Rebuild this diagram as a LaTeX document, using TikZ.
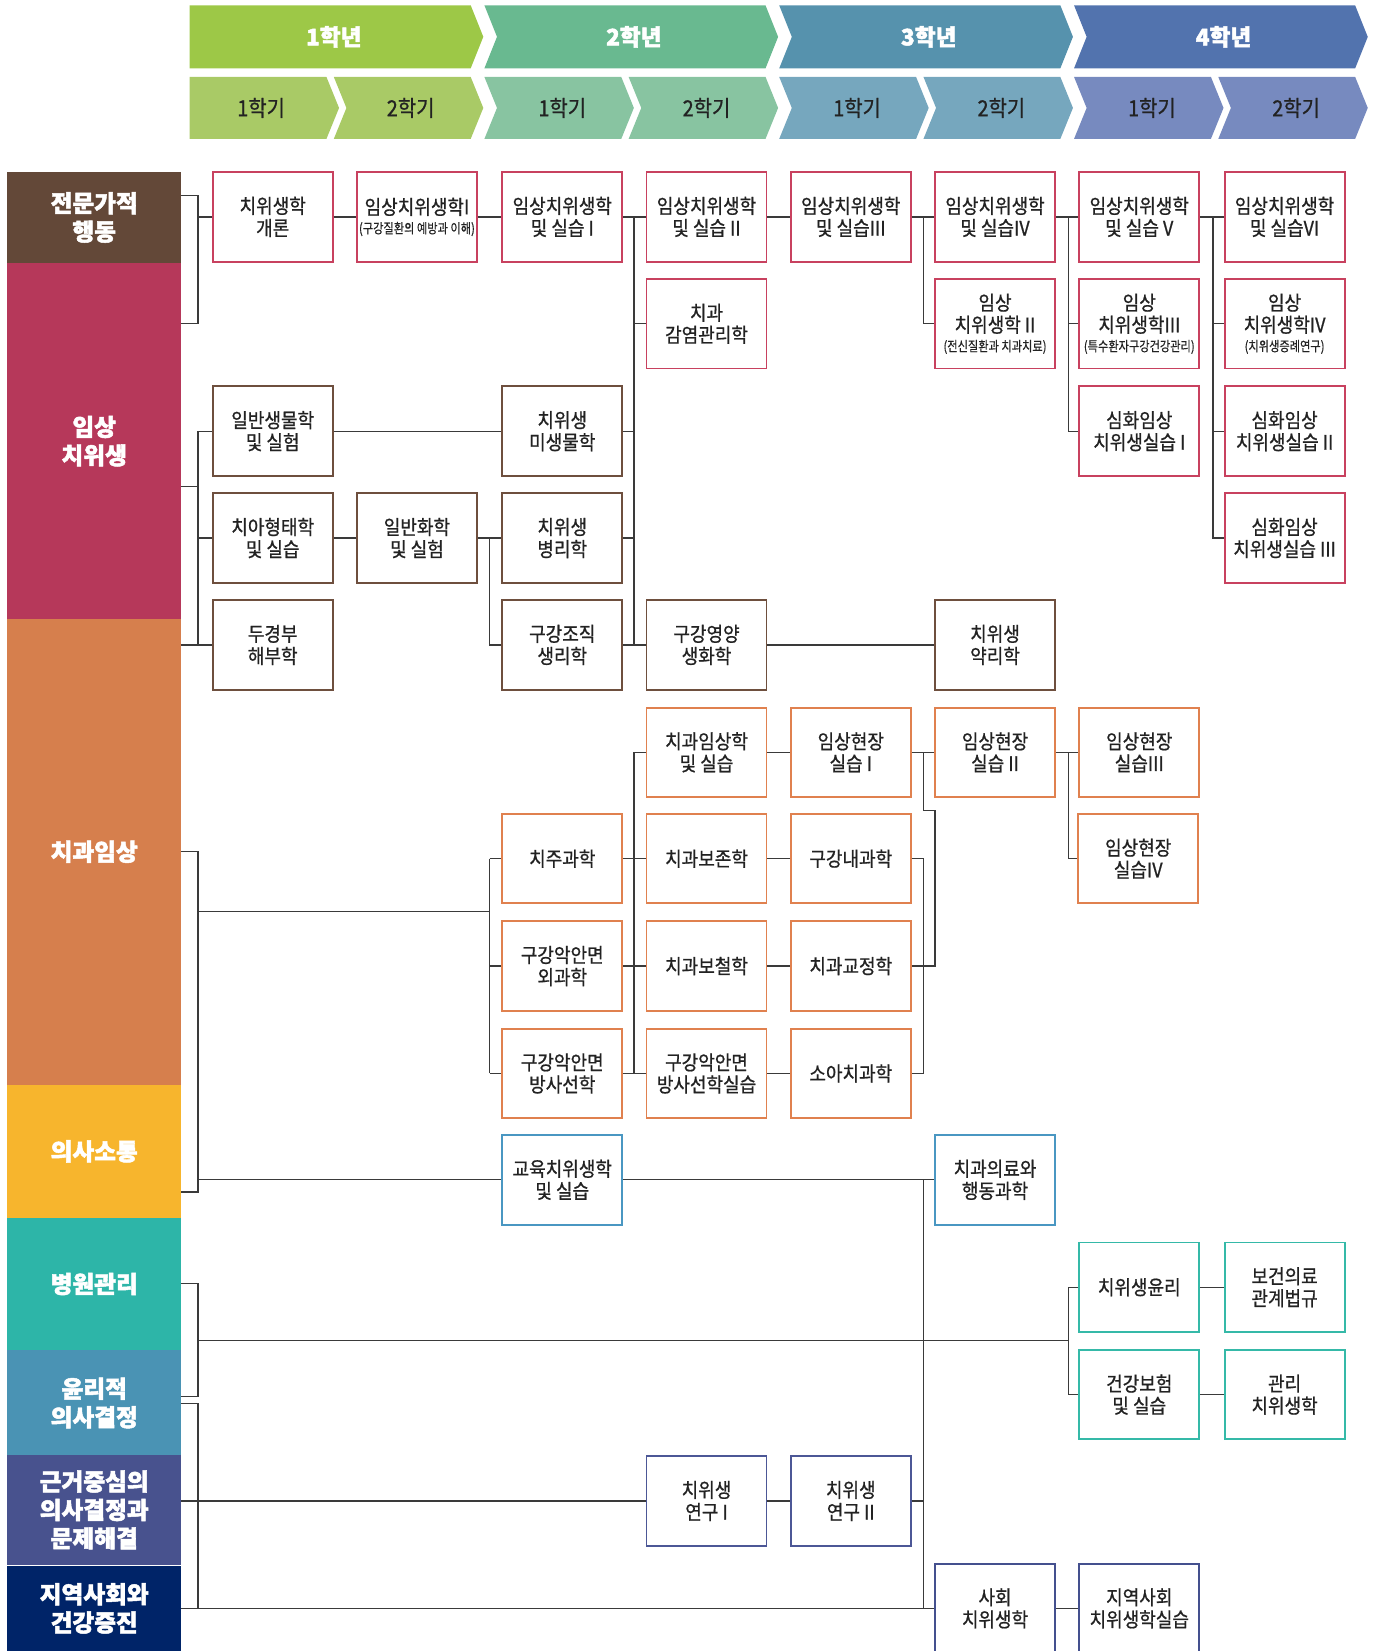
\documentclass[tikz,border=0pt]{standalone}
\usepackage{fontspec}
\setmainfont{Noto Sans CJK KR}
\newfontfamily\boxfont{Noto Sans CJK KR}[FakeBold=0.8,FakeStretch=0.9]
\newfontfamily\smallfont{Noto Sans CJK KR}[FakeBold=0.4,FakeStretch=0.82]
\newfontfamily\catfont{Noto Sans CJK KR}[BoldFeatures={FakeBold=2}]
\definecolor{y1c}{HTML}{9DC847}
\definecolor{s1c}{HTML}{A9CA66}
\definecolor{y2c}{HTML}{69B990}
\definecolor{s2c}{HTML}{88C4A1}
\definecolor{y3c}{HTML}{5692AD}
\definecolor{s3c}{HTML}{76A7BE}
\definecolor{y4c}{HTML}{5273AE}
\definecolor{s4c}{HTML}{778ABF}
\definecolor{k1c}{HTML}{634838}
\definecolor{k2c}{HTML}{B6385A}
\definecolor{k3c}{HTML}{D67F4D}
\definecolor{k4c}{HTML}{F7B52D}
\definecolor{k5c}{HTML}{2DB5A8}
\definecolor{k6c}{HTML}{4A93B4}
\definecolor{k7c}{HTML}{48528E}
\definecolor{k8c}{HTML}{002468}
\definecolor{crc}{HTML}{C8415F}
\definecolor{brc}{HTML}{6E4F3E}
\definecolor{orc}{HTML}{E0814F}
\definecolor{blc}{HTML}{4A97C2}
\definecolor{tec}{HTML}{35B9A8}
\definecolor{inc}{HTML}{4C5796}
\definecolor{nvc}{HTML}{44508E}
\definecolor{lnc}{HTML}{3A3A3A}
\definecolor{txt}{HTML}{222222}
\newcommand{\mychev}[6]{\fill[#6] (#1,#3) -- (#2,#3) -- ({#2+12},{(#3+#4)/2}) -- (#2,#4) -- (#1,#4) -- ({#1+#5},{(#3+#4)/2}) -- cycle;}
\newcommand{\sm}[1]{{\smallfont\fontsize{13}{14}\selectfont #1}}
\begin{document}
\begin{tikzpicture}[x=1pt,y=-1pt,
  box/.style={draw, line width=1.8pt, fill=white, minimum width=114pt, minimum height=85pt, inner sep=0pt, align=center, font=\boxfont\fontsize{19}{21}\selectfont, text=txt},
  crb/.style={box, draw=crc}, brb/.style={box, draw=brc}, orb/.style={box, draw=orc},
  blb/.style={box, draw=blc}, teb/.style={box, draw=tec}, inb/.style={box, draw=inc}, nvb/.style={box, draw=nvc},
  cat/.style={minimum width=165pt, inner sep=0pt, outer sep=0pt, text=white, align=center, font=\catfont\bfseries\fontsize{22.5}{27}\selectfont},
  yr/.style={text=white, font=\catfont\bfseries\fontsize{21.5}{24}\selectfont},
  sem/.style={text=txt, font=\boxfont\fontsize{21}{22}\selectfont},
  ln/.style={draw=lnc, line width=1.2pt}]
\useasboundingbox (0,0) rectangle (1306,1568);
% ---------- header ----------
\mychev{180}{447}{5}{65}{0}{y1c}
\mychev{460}{727}{5}{65}{12}{y2c}
\mychev{740}{1007}{5}{65}{12}{y3c}
\mychev{1020}{1287}{5}{65}{12}{y4c}
\mychev{180}{310}{73}{132}{0}{s1c}
\mychev{317}{447}{73}{132}{12}{s1c}
\mychev{460}{590}{73}{132}{12}{s2c}
\mychev{597}{727}{73}{132}{12}{s2c}
\mychev{740}{870}{73}{132}{12}{s3c}
\mychev{877}{1007}{73}{132}{12}{s3c}
\mychev{1020}{1150}{73}{132}{12}{s4c}
\mychev{1157}{1287}{73}{132}{12}{s4c}
\node[yr] (y1) at (317,35) {1학년};
\node[yr] (y2) at (602,35) {2학년};
\node[yr] (y3) at (882,35) {3학년};
\node[yr] (y4) at (1162,35) {4학년};
\node[sem] (s11) at (248,102.5) {1학기};
\node[sem] (s12) at (390,102.5) {2학기};
\node[sem] (s21) at (534,102.5) {1학기};
\node[sem] (s22) at (671,102.5) {2학기};
\node[sem] (s31) at (814,102.5) {1학기};
\node[sem] (s32) at (951,102.5) {2학기};
\node[sem] (s41) at (1094,102.5) {1학기};
\node[sem] (s42) at (1231,102.5) {2학기};
% ---------- categories ----------
\node[cat, fill=k1c, minimum height=87pt] (k1) at (89.5,206.5) {전문가적\\행동};
\node[cat, fill=k2c, minimum height=338pt] (k2) at (89.5,419) {임상\\치위생};
\node[cat, fill=k3c, minimum height=442pt] (k3) at (89.5,809) {치과임상};
\node[cat, fill=k4c, minimum height=127pt] (k4) at (89.5,1093.5) {의사소통};
\node[cat, fill=k5c, minimum height=125pt] (k5) at (89.5,1219.5) {병원관리};
\node[cat, fill=k6c, minimum height=101pt] (k6) at (89.5,1332.5) {윤리적\\의사결정};
\node[cat, fill=k7c, minimum height=104pt] (k7) at (89.5,1434) {근거중심의\\의사결정과\\문제해결};
\node[cat, fill=k8c, minimum height=81pt] (k8) at (89.5,1527.5) {지역사회와\\건강증진};
% ---------- courses ----------
\node[crb] (n1c1) at (259,206) {치위생학\\개론};
\node[crb] (n1c2) at (396,206) {임상치위생학I\\[-3pt]\sm{(구강질환의 예방과 이해)}};
\node[crb] (n1c3) at (534,206) {임상치위생학\\및 실습 I};
\node[crb] (n1c4) at (671,206) {임상치위생학\\및 실습 II};
\node[crb] (n1c5) at (808,206) {임상치위생학\\및 실습III};
\node[crb] (n1c6) at (945,206) {임상치위생학\\및 실습IV};
\node[crb] (n1c7) at (1082,206) {임상치위생학\\및 실습 V};
\node[crb] (n1c8) at (1220,206) {임상치위생학\\및 실습VI};
\node[crb] (n2c4) at (671,307.5) {치과\\감염관리학};
\node[crb] (n2c6) at (945,307.5) {임상\\치위생학 II\\[-3pt]\sm{(전신질환과 치과치료)}};
\node[crb] (n2c7) at (1082,307.5) {임상\\치위생학III\\[-3pt]\sm{(특수환자구강건강관리)}};
\node[crb] (n2c8) at (1220,307.5) {임상\\치위생학IV\\[-3pt]\sm{(치위생증례연구)}};
\node[brb] (n3c1) at (259,409.5) {일반생물학\\및 실험};
\node[brb] (n3c3) at (534,409.5) {치위생\\미생물학};
\node[crb] (n3c7) at (1082,409.5) {심화임상\\치위생실습 I};
\node[crb] (n3c8) at (1220,409.5) {심화임상\\치위생실습 II};
\node[brb] (n4c1) at (259,511) {치아형태학\\및 실습};
\node[brb] (n4c2) at (396,511) {일반화학\\및 실험};
\node[brb] (n4c3) at (534,511) {치위생\\병리학};
\node[crb] (n4c8) at (1220,511) {심화임상\\치위생실습 III};
\node[brb] (n5c1) at (259,612.5) {두경부\\해부학};
\node[brb] (n5c3) at (534,612.5) {구강조직\\생리학};
\node[brb] (n5c4) at (671,612.5) {구강영양\\생화학};
\node[brb] (n5c6) at (945,612.5) {치위생\\약리학};
\node[orb] (n6c4) at (671,714.5) {치과임상학\\및 실습};
\node[orb] (n6c5) at (808,714.5) {임상현장\\실습 I};
\node[orb] (n6c6) at (945,714.5) {임상현장\\실습 II};
\node[orb] (n6c7) at (1082,714.5) {임상현장\\실습III};
\node[orb] (n7c3) at (534,815.5) {치주과학};
\node[orb] (n7c4) at (671,815.5) {치과보존학};
\node[orb] (n7c5) at (808,815.5) {구강내과학};
\node[orb] (n7c7) at (1081,815.5) {임상현장\\실습IV};
\node[orb] (n8c3) at (534,917.5) {구강악안면\\외과학};
\node[orb] (n8c4) at (671,917.5) {치과보철학};
\node[orb] (n8c5) at (808,917.5) {치과교정학};
\node[orb] (n9c3) at (534,1019.5) {구강악안면\\방사선학};
\node[orb] (n9c4) at (671,1019.5) {구강악안면\\방사선학실습};
\node[orb] (n9c5) at (808,1019.5) {소아치과학};
\node[blb] (n10c3) at (534,1120.5) {교육치위생학\\및 실습};
\node[blb] (n10c6) at (945,1120.5) {치과의료와\\행동과학};
\node[teb] (n11c7) at (1082,1222.5) {치위생윤리};
\node[teb] (n11c8) at (1220,1222.5) {보건의료\\관계법규};
\node[teb] (n12c7) at (1082,1324.5) {건강보험\\및 실습};
\node[teb] (n12c8) at (1220,1324.5) {관리\\치위생학};
\node[inb] (n13c4) at (671,1425.5) {치위생\\연구 I};
\node[inb] (n13c5) at (808,1425.5) {치위생\\연구 II};
\node[nvb] (n14c6) at (945,1527.5) {사회\\치위생학};
\node[nvb] (n14c7) at (1082,1527.5) {지역사회\\치위생학실습};
% ---------- spine coordinates ----------
\coordinate (xS) at (188,0);
\coordinate (xA) at (465,0);
\coordinate (xB) at (602,0);
\coordinate (xC) at (877,0);
\coordinate (xD) at (1015,0);
\coordinate (xE) at (1152,0);
\coordinate (b1t) at (188,186);
\coordinate (b1b) at (188,307);
\coordinate (b2t) at (188,462);
\coordinate (b3t) at (188,809);
\coordinate (b3m) at (188,866);
\coordinate (b3b) at (188,1132);
\coordinate (b5t) at (188,1219);
\coordinate (b5m) at (188,1273);
\coordinate (b5b) at (188,1326);
\coordinate (b6t) at (188,1333);
\coordinate (jogA) at (877,770);
\coordinate (jogB) at (888,770);
% ---------- connectors ----------
% brown bracket
\draw[ln] (k1.east |- b1t) -- (b1t) -- (b1b) -- (k2.east |- b1b);
\draw[ln] (xS |- n1c1.west) -- (n1c1.west);
% row 1
\draw[ln] (n1c1) -- (n1c2);
\draw[ln] (n1c2) -- (n1c3);
\draw[ln] (n1c3) -- (n1c4);
\draw[ln] (n1c4) -- (n1c5);
\draw[ln] (n1c5) -- (n1c6);
\draw[ln] (n1c6) -- (n1c7);
\draw[ln] (n1c7) -- (n1c8);
\draw[ln] (xB |- n1c3.east) -- (xB |- n5c3.east);
\draw[ln] (xB |- n2c4.west) -- (n2c4.west);
\draw[ln] (n3c3.east) -- (xB |- n3c3.east);
\draw[ln] (n4c3.east) -- (xB |- n4c3.east);
\draw[ln] (n5c3) -- (n5c4);
\draw[ln] (xC |- n1c5.east) -- (xC |- n2c6.west) -- (n2c6.west);
\draw[ln] (xD |- n1c6.east) -- (xD |- n3c7.west) -- (n3c7.west);
\draw[ln] (xD |- n2c7.west) -- (n2c7.west);
\draw[ln] (xE |- n1c7.east) -- (xE |- n4c8.west) -- (n4c8.west);
\draw[ln] (xE |- n2c8.west) -- (n2c8.west);
\draw[ln] (xE |- n3c8.west) -- (n3c8.west);
% red group
\draw[ln] (k2.east |- b2t) -- (b2t);
\draw[ln] (xS |- n3c1.west) -- (xS |- n5c1.west);
\draw[ln] (xS |- n3c1.west) -- (n3c1.west);
\draw[ln] (xS |- n4c1.west) -- (n4c1.west);
\draw[ln] (k3.east |- n5c1.west) -- (n5c1.west);
\draw[ln] (n3c1) -- (n3c3);
\draw[ln] (n4c1) -- (n4c2);
\draw[ln] (n4c2) -- (n4c3);
\draw[ln] (xA |- n4c2.east) -- (xA |- n5c3.west) -- (n5c3.west);
\draw[ln] (n5c4) -- (n5c6);
% orange / yellow bracket
\draw[ln] (k3.east |- b3t) -- (b3t) -- (b3b) -- (k4.east |- b3b);
\draw[ln] (b3m) -- (xA |- b3m);
\draw[ln] (xA |- n7c3.west) -- (xA |- n9c3.west);
\draw[ln] (xA |- n7c3.west) -- (n7c3.west);
\draw[ln] (xA |- n8c3.west) -- (n8c3.west);
\draw[ln] (xA |- n9c3.west) -- (n9c3.west);
\draw[ln] (xS |- n10c3.west) -- (n10c3.west);
\draw[ln] (xB |- n6c4.west) -- (xB |- n9c4.west);
\draw[ln] (xB |- n6c4.west) -- (n6c4.west);
\draw[ln] (n7c3) -- (n7c4);
\draw[ln] (n8c3) -- (n8c4);
\draw[ln] (n9c3) -- (n9c4);
\draw[ln] (n6c4) -- (n6c5);
\draw[ln] (n7c4) -- (n7c5);
\draw[ln] (n8c4) -- (n8c5);
\draw[ln] (n9c4) -- (n9c5);
\draw[ln] (n6c5) -- (n6c6);
\draw[ln] (xC |- n6c5.east) -- (jogA) -- (jogB) -- (jogB |- n8c5.east) -- (n8c5.east);
\draw[ln] (n7c5.east) -- (xC |- n7c5.east) -- (xC |- n9c5.east) -- (n9c5.east);
\draw[ln] (n6c6) -- (n6c7);
\draw[ln] (xD |- n6c6.east) -- (xD |- n7c7.west) -- (n7c7.west);
% communication
\draw[ln] (n10c3) -- (n10c6);
\draw[ln] (xC |- n10c6.west) -- (xC |- n14c6.west);
% hospital management
\draw[ln] (k5.east |- b5t) -- (b5t) -- (b5b) -- (k6.east |- b5b);
\draw[ln] (b5m) -- (xD |- b5m);
\draw[ln] (xD |- n11c7.west) -- (xD |- n12c7.west);
\draw[ln] (xD |- n11c7.west) -- (n11c7.west);
\draw[ln] (xD |- n12c7.west) -- (n12c7.west);
\draw[ln] (n11c7) -- (n11c8);
\draw[ln] (n12c7) -- (n12c8);
% ethics / evidence / community
\draw[ln] (k6.east |- b6t) -- (b6t) -- (xS |- n14c6.west);
\draw[ln] (k7.east |- n13c4.west) -- (n13c4.west);
\draw[ln] (n13c4) -- (n13c5);
\draw[ln] (n13c5.east) -- (xC |- n13c5.east);
\draw[ln] (k8.east |- n14c6.west) -- (n14c6.west);
\draw[ln] (n14c6) -- (n14c7);
\end{tikzpicture}
\end{document}
